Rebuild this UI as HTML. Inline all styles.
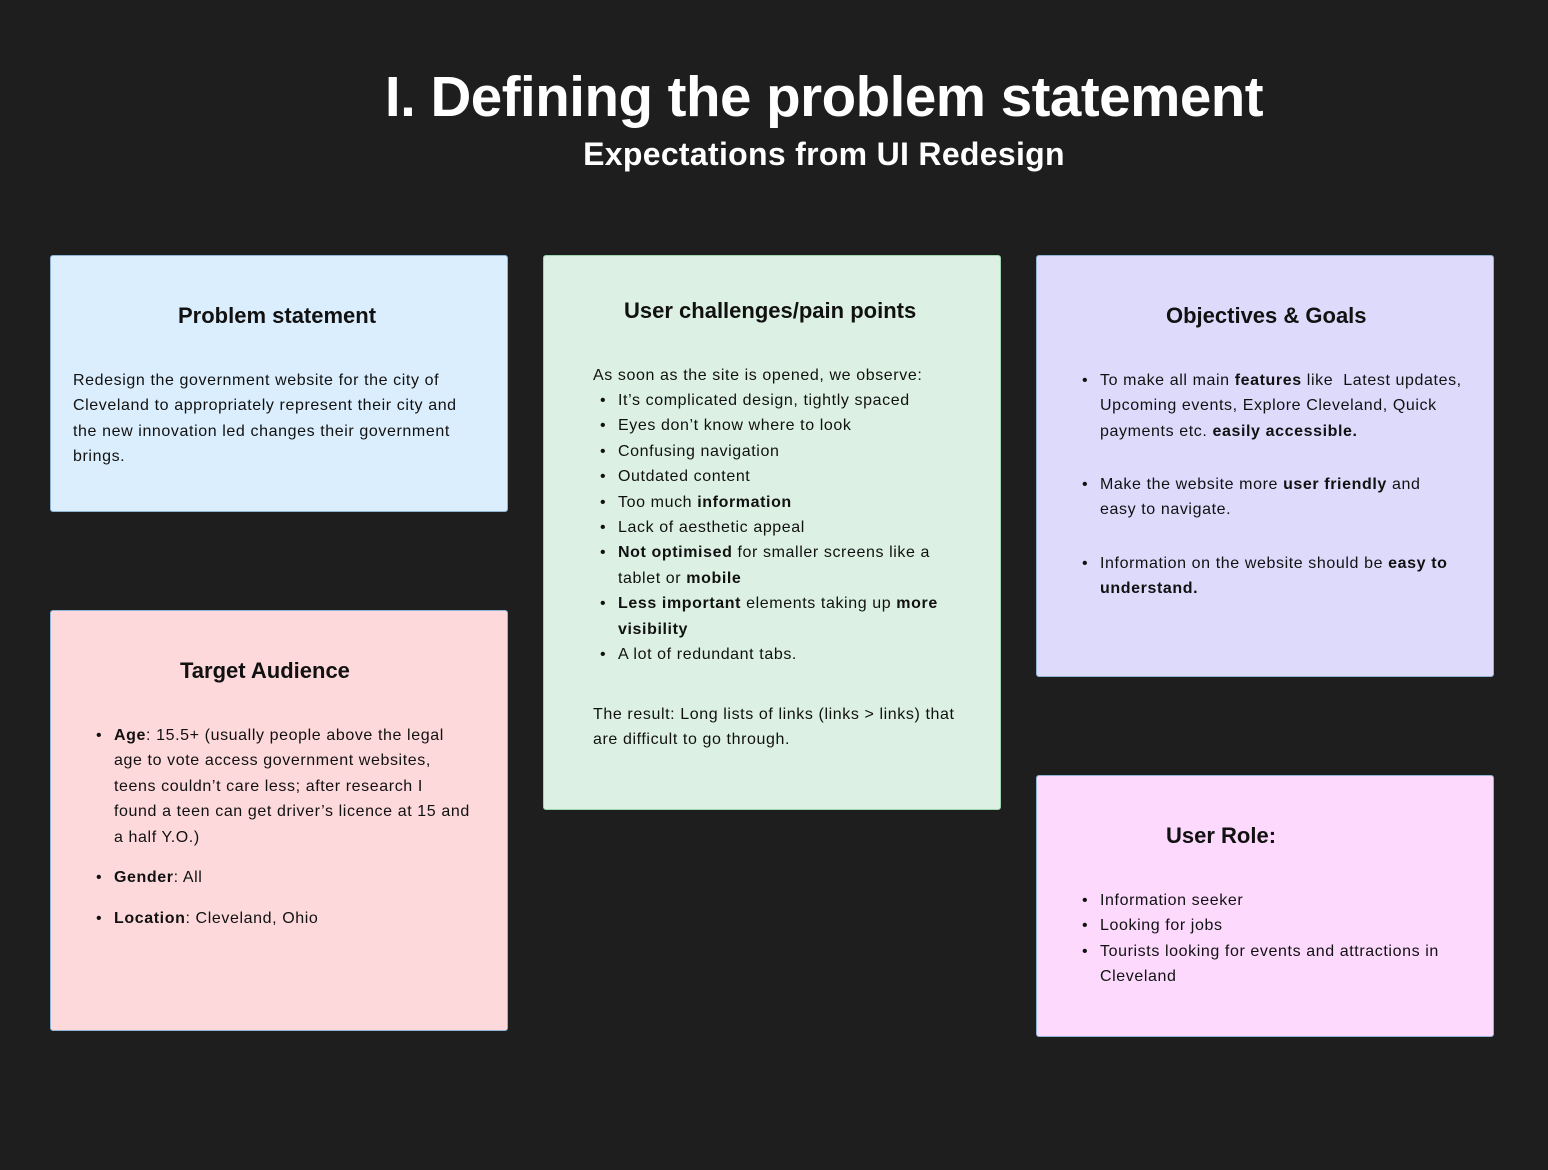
<!DOCTYPE html>
<html><head><meta charset="utf-8"><style>
body{margin:0;width:1548px;height:1170px;background:#1e1e1e;position:relative;overflow:hidden;font-family:"Liberation Sans",sans-serif;color:#111}
.t{position:absolute;white-space:nowrap}
.box{position:absolute;border:1.5px solid #8fb4d6;border-radius:3px;box-sizing:border-box}
.h{position:absolute;font-weight:bold;font-size:22px;white-space:nowrap}
.p,.b{position:absolute;font-size:16px;line-height:25.4px;white-space:nowrap;letter-spacing:0.6px;margin-top:2px}
.b .d{position:absolute;left:-18px}
b{font-weight:bold}
</style></head><body>
<div class="t" style="left:0;width:1648px;text-align:center;top:64px;font-size:56.5px;font-weight:bold;color:#fff;letter-spacing:-0.5px">I. Defining the problem statement</div>
<div class="t" style="left:0;width:1648px;text-align:center;top:136px;font-size:32px;font-weight:bold;color:#fff;letter-spacing:0.3px">Expectations from UI Redesign</div>

<div class="box" style="left:50px;top:255px;width:458px;height:257px;background:#dbeefd"></div>
<div class="h" style="left:178px;top:303px">Problem statement</div>
<div class="p" style="left:73px;top:366px">Redesign the government website for the city of<br>Cleveland to appropriately represent their city and<br>the new innovation led changes their government<br>brings.</div>

<div class="box" style="left:50px;top:610px;width:458px;height:421px;background:#fdd9db"></div>
<div class="h" style="left:180px;top:658px">Target Audience</div>
<div class="b" style="left:114px;top:721px"><span class="d">•</span><b>Age</b>: 15.5+ (usually people above the legal<br>age to vote access government websites,<br>teens couldn’t care less; after research I<br>found a teen can get driver’s licence at 15 and<br>a half Y.O.)</div>
<div class="b" style="left:114px;top:863px"><span class="d">•</span><b>Gender</b>: All</div>
<div class="b" style="left:114px;top:904px"><span class="d">•</span><b>Location</b>: Cleveland, Ohio</div>

<div class="box" style="left:543px;top:255px;width:458px;height:555px;background:#dcf1e4;border-color:#9fd3b0"></div>
<div class="h" style="left:624px;top:298px">User challenges/pain points</div>
<div class="p" style="left:593px;top:361px">As soon as the site is opened, we observe:</div>
<div class="b" style="left:618px;top:386px"><span class="d">•</span>It’s complicated design, tightly spaced<br><span class="d">•</span>Eyes don’t know where to look<br><span class="d">•</span>Confusing navigation<br><span class="d">•</span>Outdated content<br><span class="d">•</span>Too much <b>information</b><br><span class="d">•</span>Lack of aesthetic appeal<br><span class="d">•</span><b>Not optimised</b> for smaller screens like a<br>tablet or <b>mobile</b><br><span class="d">•</span><b>Less important</b> elements taking up <b>more</b><br><b>visibility</b><br><span class="d">•</span>A lot of redundant tabs.</div>
<div class="p" style="left:593px;top:700px">The result: Long lists of links (links &gt; links) that<br>are difficult to go through.</div>

<div class="box" style="left:1036px;top:255px;width:458px;height:422px;background:#dedafc"></div>
<div class="h" style="left:1166px;top:303px">Objectives &amp; Goals</div>
<div class="b" style="left:1100px;top:366px"><span class="d">•</span>To make all main <b>features</b> like &nbsp;Latest updates,<br>Upcoming events, Explore Cleveland, Quick<br>payments etc. <b>easily accessible.</b></div>
<div class="b" style="left:1100px;top:470px"><span class="d">•</span>Make the website more <b>user friendly</b> and<br>easy to navigate.</div>
<div class="b" style="left:1100px;top:549px"><span class="d">•</span>Information on the website should be <b>easy to</b><br><b>understand.</b></div>

<div class="box" style="left:1036px;top:775px;width:458px;height:262px;background:#fcd9fd"></div>
<div class="h" style="left:1166px;top:823px">User Role:</div>
<div class="b" style="left:1100px;top:886px"><span class="d">•</span>Information seeker<br><span class="d">•</span>Looking for jobs<br><span class="d">•</span>Tourists looking for events and attractions in<br>Cleveland</div>
</body></html>
